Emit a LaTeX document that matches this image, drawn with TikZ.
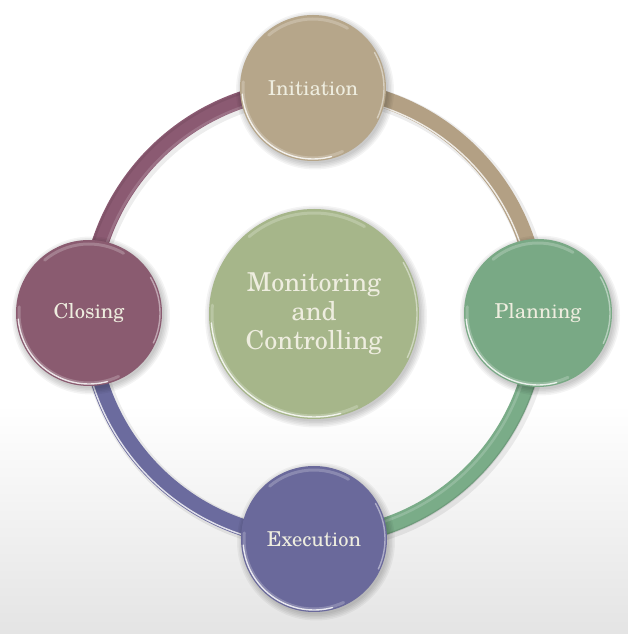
\documentclass[tikz,border=0pt]{standalone}
\usepackage{fontspec}
\setmainfont{TeX Gyre Schola}
\usetikzlibrary{calc}
\definecolor{tanC}{HTML}{B6A68A}
\definecolor{greenC}{HTML}{79A985}
\definecolor{blueC}{HTML}{6A699B}
\definecolor{maroonC}{HTML}{8A5B70}
\definecolor{centerC}{HTML}{A6B68A}
\definecolor{tanR}{HTML}{B3A084}
\definecolor{greenR}{HTML}{7AAC88}
\definecolor{blueR}{HTML}{6B6B9E}
\definecolor{maroonR}{HTML}{8B5A72}
\definecolor{txtC}{HTML}{EEEDDF}
\definecolor{bgLow}{HTML}{E4E4E4}
\tikzset{
  phase/.style={circle, inner sep=0pt, minimum size=146pt, text=txtC, font=\fontsize{20.5}{24}\selectfont},
  hub/.style={circle, inner sep=0pt, minimum size=210pt, text=txtC, align=center, font=\fontsize{26}{29}\selectfont},
  tube/.style={line width=17pt},
  tubeshadow/.style={line width=21pt, draw=black, opacity=0.07},
  gloss/.style={draw=white, line width=1.4pt, opacity=0.8, line cap=round},
  softgloss/.style={draw=white, line width=3pt, opacity=0.22, line cap=round},
}
\newcommand{\softshadow}[2]{%
  \foreach \k in {0,1,2,3,4}{\fill[black, opacity=0.045] ($(#1)+(2pt,-2.5pt)$) circle[radius=#2+\k*1.5pt];}}
\newcommand{\rimgloss}[2]{%
  \draw[softgloss] ($(#1)+(175:#2-3pt)$) arc[start angle=175, end angle=295, radius=#2-3pt];
  \draw[gloss] ($(#1)+(185:#2-2pt)$) arc[start angle=185, end angle=285, radius=#2-2pt];
  \draw[gloss, opacity=0.45] ($(#1)+(-25:#2-2pt)$) arc[start angle=-25, end angle=30, radius=#2-2pt];
  \draw[softgloss] ($(#1)+(60:#2-4pt)$) arc[start angle=60, end angle=130, radius=#2-4pt];}
\begin{document}
\begin{tikzpicture}[x=1pt,y=1pt]
\useasboundingbox (0,0) rectangle (628,634);
\fill[white] (0,0) rectangle (628,634);
\shade[top color=white, bottom color=bgLow] (0,0) rectangle (628,230);
% positions
\coordinate (pC) at (314,320);
\coordinate (pI) at (313,546);
\coordinate (pP) at (538,321);
\coordinate (pE) at (314,95);
\coordinate (pL) at (89,321);
% ring shadow
\draw[tubeshadow] ($(pC)+(1.5pt,-1.5pt)$) circle[radius=225pt];
% ring arcs
\draw[tube, draw=tanR] (pI) arc[start angle=90, end angle=0, radius=225pt];
\draw[tube, draw=greenR] (pP) arc[start angle=0, end angle=-90, radius=225pt];
\draw[tube, draw=blueR] (pE) arc[start angle=-90, end angle=-180, radius=225pt];
\draw[tube, draw=maroonR] (pL) arc[start angle=180, end angle=90, radius=225pt];
% ring highlights
\draw[gloss] ($(pC)+(88:218pt)$) arc[start angle=88, end angle=4, radius=218pt];
\draw[gloss] ($(pC)+(-92:232pt)$) arc[start angle=-92, end angle=-176, radius=232pt];
\draw[draw=white, line width=2.5pt, opacity=0.18] ($(pC)+(-2:219pt)$) arc[start angle=-2, end angle=-88, radius=219pt];
\draw[draw=white, line width=2.5pt, opacity=0.15] ($(pC)+(178:219pt)$) arc[start angle=178, end angle=92, radius=219pt];
\draw[draw=black, line width=2pt, opacity=0.07] ($(pC)+(178:232pt)$) arc[start angle=178, end angle=92, radius=232pt];
\draw[draw=black, line width=2pt, opacity=0.09] ($(pC)+(-2:232pt)$) arc[start angle=-2, end angle=-88, radius=232pt];
% shadows of circles
\softshadow{pC}{105pt}
\softshadow{pI}{73pt}
\softshadow{pP}{74pt}
\softshadow{pE}{73pt}
\softshadow{pL}{73pt}
% circles
\node[hub, fill=centerC] (mc) at (pC) {Monitoring\\and\\Controlling};
\node[phase, fill=tanC] (ini) at (pI) {Initiation};
\node[phase, fill=greenC, minimum size=148pt] (pla) at (pP) {Planning};
\node[phase, fill=blueC] (exe) at (pE) {Execution};
\node[phase, fill=maroonC] (clo) at (pL) {Closing};
% glossy rims
\rimgloss{pC}{105pt}
\rimgloss{pI}{73pt}
\rimgloss{pP}{74pt}
\rimgloss{pE}{73pt}
\rimgloss{pL}{73pt}
\end{tikzpicture}
\end{document}
